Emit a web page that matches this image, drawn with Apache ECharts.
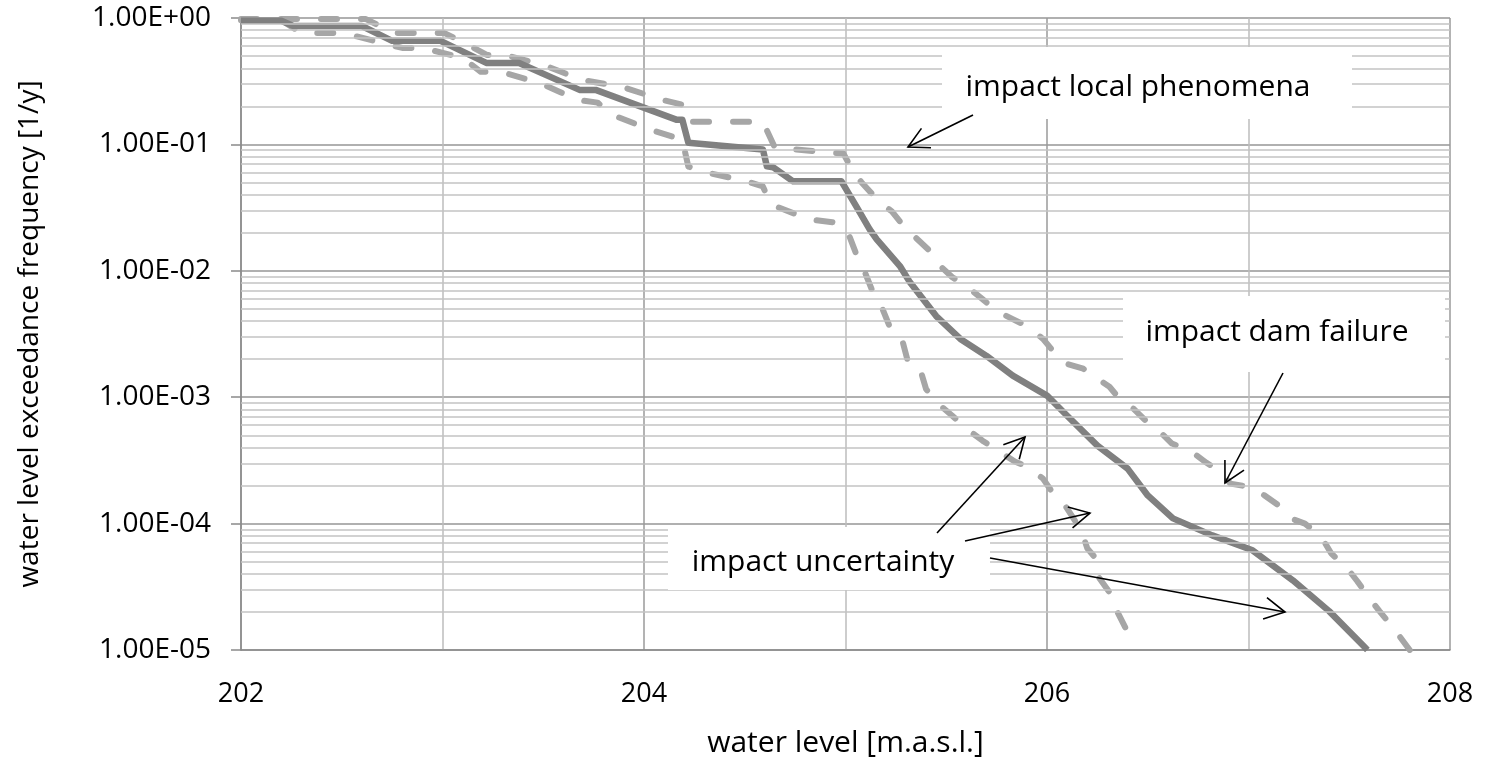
<!DOCTYPE html>
<html>
<head>
<meta charset="utf-8">
<script src="https://cdn.jsdelivr.net/npm/echarts@6/dist/echarts.min.js"></script>
<style>
  html, body { margin: 0; padding: 0; background: #fff; }
  #main { width: 1487px; height: 763px; }
</style>
</head>
<body>
<div id="main"></div>
<script>
// central curve (solid)
var centralLevel = [202.00, 202.20, 202.26, 202.60, 202.75, 202.99, 203.22, 203.38, 203.68, 203.76,
  204.16, 204.19, 204.22, 204.59, 204.61, 204.64, 204.74, 204.98, 205.055, 205.12,
  205.155, 205.27, 205.32, 205.45, 205.57, 205.70, 205.83, 206.00, 206.10, 206.25,
  206.40, 206.50, 206.625, 206.82, 207.02, 207.22, 207.40, 207.57, 207.59];
var centralFreq = [0.95, 0.95, 0.865, 0.865, 0.66, 0.66, 0.44, 0.44, 0.27, 0.27,
  0.157, 0.157, 0.103, 0.091, 0.067, 0.066, 0.051, 0.051, 0.032, 0.0213,
  0.0177, 0.0109, 0.0081, 0.00438, 0.00289, 0.00212, 0.00148, 0.00103, 7.13e-4, 4.14e-4,
  2.72e-4, 1.67e-4, 1.10e-4, 8.07e-5, 6.15e-5, 3.56e-5, 2.03e-5, 1.08e-5, 1.0e-5];

// upper bound (dashed, right)
var upperLevel = [202.00, 202.62, 202.76, 203.01, 203.13, 203.22, 203.31, 203.51, 203.69, 203.89,
  204.09, 204.19, 204.22, 204.59, 204.65, 204.99, 205.04, 205.08, 205.17, 205.23,
  205.29, 205.34, 205.42, 205.46, 205.53, 205.60, 205.68, 205.75, 205.83, 205.91,
  205.98, 206.03, 206.10, 206.18, 206.25, 206.31, 206.36, 206.43, 206.50, 206.56,
  206.62, 206.71, 206.79, 206.86, 206.91, 207.00, 207.08, 207.15, 207.21, 207.28,
  207.36, 207.41, 207.49, 207.54, 207.60, 207.65, 207.72, 207.80];
var upperFreq = [0.98, 0.98, 0.76, 0.76, 0.61, 0.51, 0.51, 0.42, 0.324, 0.286,
  0.225, 0.206, 0.151, 0.151, 0.094, 0.0846, 0.060, 0.050, 0.0348, 0.0295,
  0.0225, 0.0188, 0.0143, 0.0113, 0.0089, 0.00757, 0.00597, 0.0048, 0.00415, 0.00359,
  0.00289, 0.00232, 0.00183, 0.00168, 0.0014, 0.00121, 9.7e-4, 8.1e-4, 6.28e-4, 5.33e-4,
  4.3e-4, 3.78e-4, 3.04e-4, 2.58e-4, 2.07e-4, 1.96e-4, 1.67e-4, 1.39e-4, 1.1e-4, 1.0e-4,
  7.93e-5, 5.82e-5, 4.43e-5, 3.5e-5, 2.57e-5, 2.03e-5, 1.49e-5, 1.0e-5];

// lower bound (dashed, left)
var lowerLevel = [202.00, 202.20, 202.30, 202.51, 202.70, 202.80, 202.90, 203.10, 203.19, 203.29,
  203.48, 203.58, 203.67, 203.77, 203.84, 204.03, 204.19, 204.22, 204.29, 204.51,
  204.59, 204.63, 204.82, 204.94, 205.01, 205.05, 205.09, 205.13, 205.18, 205.22,
  205.28, 205.31, 205.37, 205.40, 205.46, 205.53, 205.60, 205.68, 205.74, 205.84,
  205.90, 205.98, 206.02, 206.09, 206.17, 206.20, 206.25, 206.26, 206.32, 206.34,
  206.39, 206.42];
var lowerFreq = [0.96, 0.96, 0.76, 0.76, 0.635, 0.58, 0.58, 0.484, 0.375, 0.375,
  0.307, 0.261, 0.225, 0.214, 0.172, 0.131, 0.109, 0.0668, 0.061, 0.051,
  0.0465, 0.0335, 0.0255, 0.0242, 0.0205, 0.014, 0.0103, 0.00716, 0.00516, 0.00359,
  0.00289, 0.0019, 0.00168, 0.00116, 8.87e-4, 7.13e-4, 5.64e-4, 4.53e-4, 3.92e-4, 3.1e-4,
  2.83e-4, 2.27e-4, 1.83e-4, 1.39e-4, 8.84e-5, 6.37e-5, 5.13e-5, 3.7e-5, 2.72e-5, 2.14e-5,
  1.49e-5, 1.0e-5];

var xTicks = [202, 204, 206, 208];
var decades = [-5, -4, -3, -2, -1];
var minorMults = [2, 3, 4, 5, 6, 7, 8, 9];

function zip(a, b) {
  var out = [];
  for (var i = 0; i < a.length; i++) out.push([a[i], b[i]]);
  return out;
}

// minor grid lines of the log axis
var minorLines = [];
decades.forEach(function (e) {
  minorMults.forEach(function (m) {
    minorLines.push({ yAxis: m * Math.pow(10, e) });
  });
});

var FONT = 'Open Sans';
var chart = echarts.init(document.getElementById('main'));

function arrow(x1, y1, x2, y2) {
  var ang = Math.atan2(y1 - y2, x1 - x2);
  var L = 23, a = 28 * Math.PI / 180;
  var st = { stroke: '#000', lineWidth: 1.6, fill: null };
  return [
    { type: 'line', shape: { x1: x1, y1: y1, x2: x2, y2: y2 }, style: st, z: 100 },
    { type: 'polyline', shape: { points: [
        [x2 + L * Math.cos(ang + a), y2 + L * Math.sin(ang + a)],
        [x2, y2],
        [x2 + L * Math.cos(ang - a), y2 + L * Math.sin(ang - a)]
      ] }, style: st, z: 100 }
  ];
}

function box(x, y, w, h, txt, cx, cy) {
  return [
    { type: 'rect', shape: { x: x, y: y, width: w, height: h }, style: { fill: '#fff' }, z: 90 },
    { type: 'text', x: cx, y: cy, style: { text: txt, fill: '#000', font: '30px "' + FONT + '"',
      align: 'center', verticalAlign: 'middle' }, z: 95 }
  ];
}

var graphics = []
  .concat(box(942, 47, 410, 72, 'impact local phenomena', 1138, 87))
  .concat(box(1123, 296, 322, 76, 'impact dam failure', 1277, 332))
  .concat(box(668, 527, 322, 63, 'impact uncertainty', 823, 562))
  .concat(arrow(973, 115, 908, 147))
  .concat(arrow(1283, 373, 1225, 483))
  .concat(arrow(937, 533, 1025, 437))
  .concat(arrow(965, 541, 1090, 513))
  .concat(arrow(990, 558, 1285, 612));

var option = {
  animation: false,
  textStyle: { fontFamily: FONT },
  grid: { left: 241, right: 37, top: 18, bottom: 111 },
  xAxis: {
    type: 'value',
    min: 202, max: 208, interval: 1,
    name: 'water level [m.a.s.l.]',
    nameLocation: 'middle',
    nameGap: 78,
    nameTextStyle: { fontSize: 30, color: '#000', fontFamily: FONT },
    axisLine: { show: true, lineStyle: { color: '#8a8a8a', width: 1.5 } },
    axisTick: { show: false },
    axisLabel: {
      fontSize: 27, color: '#000', margin: 31, fontFamily: FONT,
      formatter: function (v) { return xTicks.indexOf(v) >= 0 ? String(v) : ''; }
    },
    splitLine: { show: true, lineStyle: { color: ['#9a9a9a', '#bcbcbc'], width: 1.5 } }
  },
  yAxis: {
    type: 'log', logBase: 10,
    min: 1e-5, max: 1,
    name: 'water level exceedance frequency [1/y]',
    nameLocation: 'middle',
    nameGap: 197,
    nameTextStyle: { fontSize: 28, color: '#000', fontFamily: FONT },
    axisLine: { show: true, lineStyle: { color: '#8a8a8a', width: 1.5 } },
    axisTick: { show: true, length: 10, lineStyle: { color: '#8a8a8a', width: 1.5 } },
    axisLabel: {
      fontSize: 28, color: '#000', margin: 30, fontFamily: FONT,
      formatter: function (v) {
        var e = Math.round(Math.log10(v));
        var a = Math.abs(e);
        return '1.00E' + (e < 0 ? '-' : '+') + (a < 10 ? '0' : '') + a;
      }
    },
    splitLine: { show: true, lineStyle: { color: '#969696', width: 1.5 } }
  },
  series: [
    {
      type: 'line', data: [], z: 1, silent: true,
      markLine: {
        silent: true, symbol: 'none', precision: 10, label: { show: false },
        lineStyle: { color: '#c3c3c3', type: 'solid', width: 1.5 },
        data: minorLines
      }
    },
    {
      name: 'upper', type: 'line', data: zip(upperLevel, upperFreq), showSymbol: false, z: 3,
      lineStyle: { color: '#a6a6a6', width: 6, type: [16, 24], cap: 'round', join: 'round' }
    },
    {
      name: 'lower', type: 'line', data: zip(lowerLevel, lowerFreq), showSymbol: false, z: 3,
      lineStyle: { color: '#a6a6a6', width: 6, type: [16, 24], cap: 'round', join: 'round' }
    },
    {
      name: 'central', type: 'line', data: zip(centralLevel, centralFreq), showSymbol: false, z: 4,
      lineStyle: { color: '#808080', width: 6.5, join: 'round' }
    }
  ],
  graphic: graphics
};

chart.setOption(option);
</script>
</body>
</html>
